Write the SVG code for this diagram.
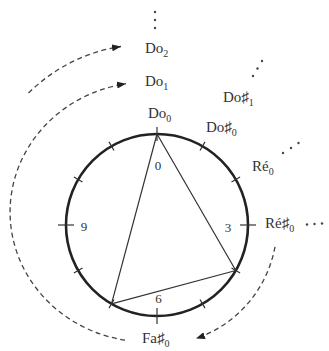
<svg xmlns="http://www.w3.org/2000/svg" width="329" height="351" viewBox="0 0 329 351">
<style>
.lbl{font-family:"Liberation Serif","DejaVu Serif",serif;font-size:15px;fill:#333}
.num{font-family:"Liberation Serif","DejaVu Serif",serif;font-size:13px;fill:#333;text-anchor:middle}
.circ{fill:none;stroke:#222;stroke-width:2.6}
.tick{stroke:#333;stroke-width:1.2}
.tri{fill:none;stroke:#333;stroke-width:1.2;stroke-linejoin:round}
.dash{fill:none;stroke:#444;stroke-width:1.3;stroke-dasharray:5 3.5}
.dot{fill:#444}
</style>
<defs>
<marker id="ah" markerUnits="userSpaceOnUse" markerWidth="9" markerHeight="7" refX="9" refY="3.5" orient="auto">
<path d="M0,0 L9,3.5 L0,7 z" fill="#222"/>
</marker>
</defs>
<g id="clock">
<circle class="circ" cx="157" cy="225" r="91"/>
<g id="ticks">
<line class="tick" x1="157" y1="127" x2="157" y2="141"/>
<line class="tick" x1="200" y1="150.5" x2="205" y2="141.9"/>
<line class="tick" x1="231.5" y1="182" x2="240.1" y2="177"/>
<line class="tick" x1="240" y1="225" x2="256" y2="225"/>
<line class="tick" x1="231.5" y1="268" x2="240.1" y2="273"/>
<line class="tick" x1="200" y1="299.5" x2="205" y2="308.1"/>
<line class="tick" x1="157" y1="308" x2="157" y2="324"/>
<line class="tick" x1="114" y1="299.5" x2="109" y2="308.1"/>
<line class="tick" x1="82.5" y1="268" x2="73.9" y2="273"/>
<line class="tick" x1="58" y1="225" x2="74" y2="225"/>
<line class="tick" x1="82.5" y1="182" x2="73.9" y2="177"/>
<line class="tick" x1="114" y1="150.5" x2="109" y2="141.9"/>
</g>
<text class="num" x="158" y="170">0</text>
<text class="num" x="228" y="232">3</text>
<text class="num" x="158.5" y="303">6</text>
<text class="num" x="84" y="231">9</text>
</g>
<g id="triad">
<polygon class="tri" points="157,134 235.8,270.5 111.5,303.8"/>
</g>
<g id="connectors">
<path class="dash" d="M275,246.8 A120,120 0 0 1 196,338.5" marker-end="url(#ah)"/>
<path class="dash" d="M125,340.2 A138,130 0 0 1 126,83.7" marker-end="url(#ah)"/>
<path class="dash" d="M28.5,93 A168,168 0 0 1 121,46.5" marker-end="url(#ah)"/>
</g>
<g id="n-do2"><text class="lbl" x="145" y="53">Do<tspan font-size="10" dy="4">2</tspan></text></g>
<g id="n-do1"><text class="lbl" x="145" y="86">Do<tspan font-size="10" dy="4">1</tspan></text></g>
<g id="n-do0"><text class="lbl" x="148" y="118">Do<tspan font-size="10" dy="4">0</tspan></text></g>
<g id="n-dos1"><text class="lbl" x="223" y="102">Do♯<tspan font-size="10" dy="4">1</tspan></text></g>
<g id="n-dos0"><text class="lbl" x="206" y="132">Do♯<tspan font-size="10" dy="4">0</tspan></text></g>
<g id="n-re0"><text class="lbl" x="252" y="171">Ré<tspan font-size="10" dy="4">0</tspan></text></g>
<g id="n-res0"><text class="lbl" x="265" y="228">Ré♯<tspan font-size="10" dy="4">0</tspan></text></g>
<g id="n-fas0"><text class="lbl" x="142" y="343">Fa♯<tspan font-size="10" dy="4">0</tspan></text></g>
<g id="ellipses">
<circle class="dot" cx="155" cy="12" r="1.2"/>
<circle class="dot" cx="155" cy="20" r="1.2"/>
<circle class="dot" cx="155" cy="28" r="1.2"/>
<circle class="dot" cx="262" cy="61" r="1.2"/>
<circle class="dot" cx="257.5" cy="68.5" r="1.2"/>
<circle class="dot" cx="253" cy="76" r="1.2"/>
<circle class="dot" cx="283" cy="153" r="1.2"/>
<circle class="dot" cx="291" cy="148" r="1.2"/>
<circle class="dot" cx="298.5" cy="143" r="1.2"/>
<circle class="dot" cx="307" cy="224.5" r="1.2"/>
<circle class="dot" cx="314.5" cy="224" r="1.2"/>
<circle class="dot" cx="322" cy="223.5" r="1.2"/>
</g>
</svg>
